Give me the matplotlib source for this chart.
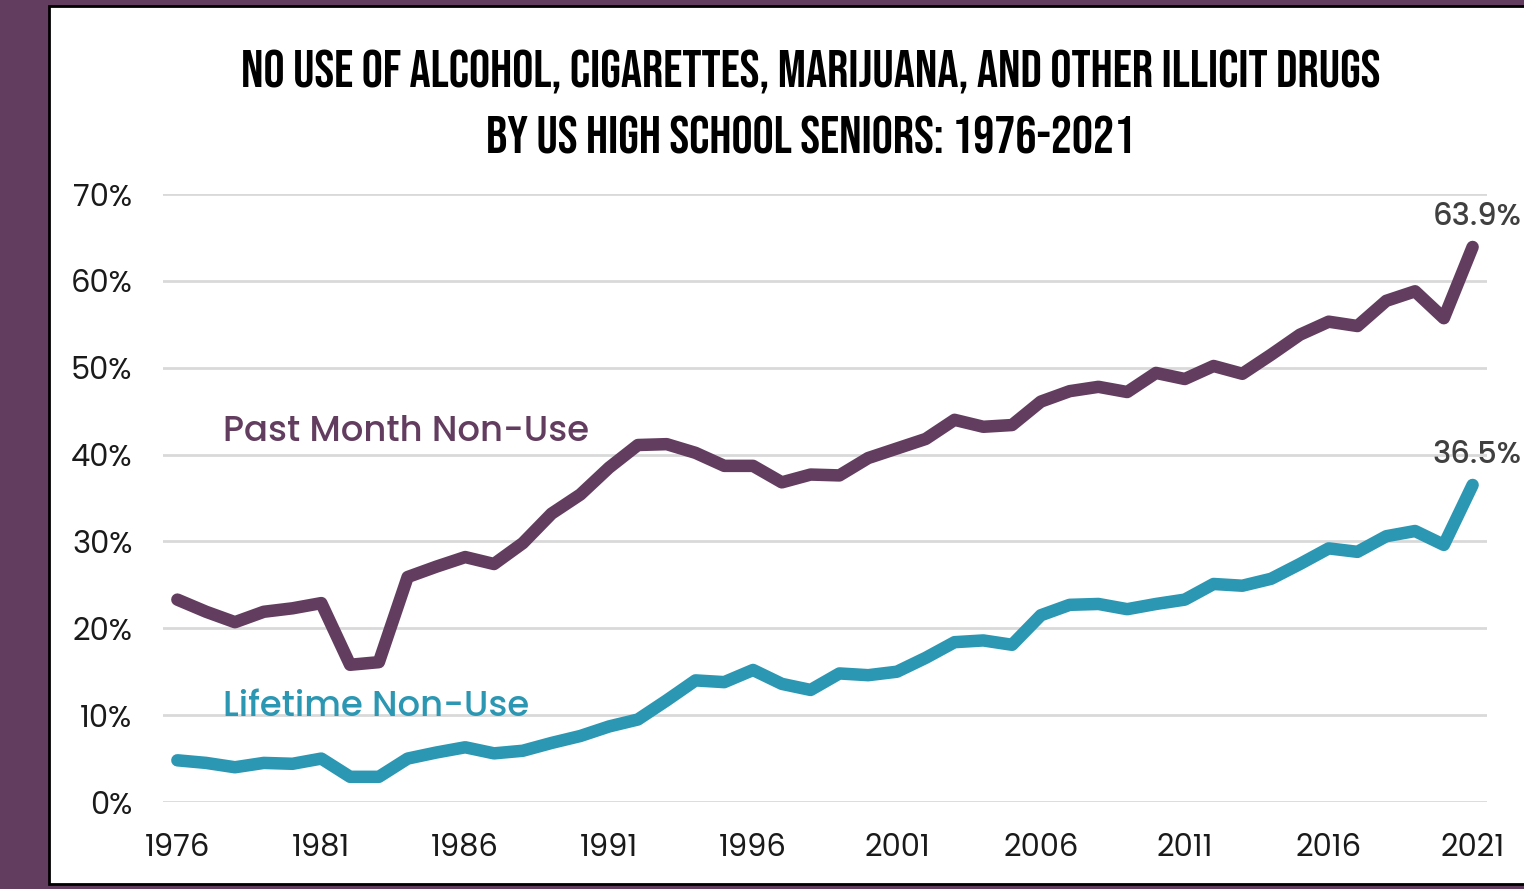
import numpy as np
import matplotlib
matplotlib.use("Agg")
import matplotlib.pyplot as plt
from matplotlib.patches import Rectangle

# data
years = list(range(1976, 2022))
past_month = [23.3, 21.9, 20.7, 21.9, 22.3, 22.9, 15.8, 16.1, 25.9, 27.1,
              28.2, 27.4, 29.8, 33.2, 35.4, 38.5, 41.1, 41.2, 40.2, 38.7,
              38.7, 36.8, 37.7, 37.6, 39.6, 40.7, 41.8, 44.0, 43.2, 43.4,
              46.1, 47.3, 47.8, 47.2, 49.4, 48.7, 50.2, 49.3, 51.5, 53.8,
              55.3, 54.8, 57.7, 58.8, 55.7, 63.9]
lifetime = [4.8, 4.5, 4.0, 4.5, 4.4, 5.0, 2.9, 2.9, 5.0, 5.7,
            6.3, 5.6, 5.9, 6.8, 7.6, 8.7, 9.5, 11.7, 14.0, 13.8,
            15.2, 13.6, 12.9, 14.8, 14.6, 15.0, 16.6, 18.4, 18.6, 18.1,
            21.5, 22.7, 22.8, 22.2, 22.8, 23.3, 25.1, 24.9, 25.7, 27.4,
            29.2, 28.8, 30.6, 31.2, 29.6, 36.5]
xticks = [1976, 1981, 1986, 1991, 1996, 2001, 2006, 2011, 2016, 2021]
yticks = [0, 10, 20, 30, 40, 50, 60, 70]

purple = "#633d5f"
teal = "#2b97b3"
body_font = ["Poppins", "Lato", "DejaVu Sans"]
title_font = ["Bebas Neue", "DejaVu Sans"]
plt.rcParams["font.family"] = body_font

fig = plt.figure(figsize=(15.24, 8.89), dpi=100)
fig.patch.set_facecolor(purple)

# white panel with black frame (runs off the right edge)
bg = fig.add_axes([0, 0, 1, 1], zorder=0)
bg.set_xlim(0, 1524)
bg.set_ylim(889, 0)
bg.axis("off")
bg.add_patch(Rectangle((49, 6), 1600, 878, facecolor="white", edgecolor="black", lw=2))

ax = fig.add_axes([163 / 1524, 87 / 889, 1324 / 1524, 608 / 889], zorder=1)
ax.set_facecolor("none")

ax.plot(years, past_month, color=purple, lw=9, solid_capstyle="round",
        solid_joinstyle="round", zorder=3)
ax.plot(years, lifetime, color=teal, lw=9, solid_capstyle="round",
        solid_joinstyle="round", zorder=3)

ax.set_xlim(1975.5, 2021.5)
ax.set_ylim(0, 70)
ax.set_xticks(xticks)
ax.set_yticks(yticks)
ax.set_yticklabels([f"{v}%" for v in yticks])
ax.grid(axis="y", color="#d9d9d9", lw=2)
ax.set_axisbelow(True)
for s in ax.spines.values():
    s.set_visible(False)
ax.tick_params(axis="both", length=0, labelsize=22, colors="#1a1a1a")
ax.tick_params(axis="y", pad=22)
ax.tick_params(axis="x", pad=22)

ax.text(1977.58, 41.6, "Past Month Non-Use", color=purple, fontsize=25.5,
        fontweight="medium", va="baseline", ha="left")
ax.text(1977.58, 9.9, "Lifetime Non-Use", color=teal, fontsize=25.5,
        fontweight="medium", va="baseline", ha="left")

for v in (past_month[-1], lifetime[-1]):
    ax.annotate(f"{v}%", (years[-1], v), xytext=(3, 16), textcoords="offset points",
                ha="center", va="baseline", fontsize=22, fontweight="medium",
                color="#404040", annotation_clip=False)

fig.text(811 / 1524, 1 - 72 / 889,
         "NO USE OF ALCOHOL, CIGARETTES, MARIJUANA, AND OTHER ILLICIT DRUGS",
         family=title_font, fontsize=38, ha="center", va="center")
fig.text(811 / 1524, 1 - 135 / 889, "BY US HIGH SCHOOL SENIORS: 1976-2021",
         family=title_font, fontsize=38, ha="center", va="center")

fig.savefig("out.png", dpi=100, facecolor=fig.get_facecolor())
